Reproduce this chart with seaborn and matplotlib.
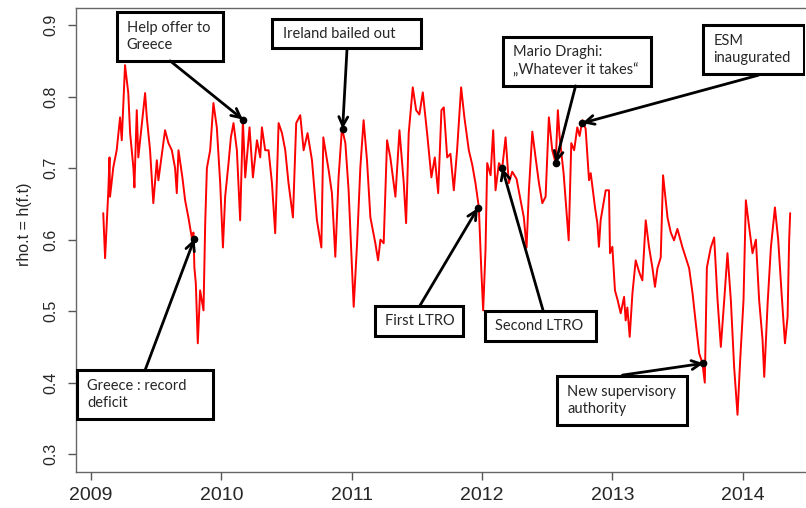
import numpy as np
import pandas as pd
import matplotlib
matplotlib.use("Agg")
import matplotlib.pyplot as plt
import seaborn as sns
from matplotlib.patches import Rectangle

# --- series (decimal year, rho.t) ---
dates = [
    2009.094, 2009.108, 2009.133, 2009.142, 2009.146, 2009.171, 2009.197, 2009.223, 2009.236, 2009.261,
    2009.286, 2009.300, 2009.325, 2009.333, 2009.351, 2009.363, 2009.415, 2009.428, 2009.453, 2009.478,
    2009.505, 2009.517, 2009.568, 2009.594, 2009.620, 2009.645, 2009.658, 2009.671, 2009.701, 2009.722,
    2009.747, 2009.773, 2009.786, 2009.793, 2009.804, 2009.819, 2009.837, 2009.863, 2009.876, 2009.889,
    2009.914, 2009.939, 2009.965, 2009.991, 2010.012, 2010.029, 2010.055, 2010.073, 2010.093, 2010.119,
    2010.144, 2010.165, 2010.183, 2010.216, 2010.242, 2010.273, 2010.298, 2010.311, 2010.336, 2010.362,
    2010.388, 2010.413, 2010.439, 2010.465, 2010.490, 2010.515, 2010.549, 2010.574, 2010.605, 2010.631,
    2010.661, 2010.695, 2010.733, 2010.767, 2010.782, 2010.823, 2010.848, 2010.874, 2010.899, 2010.925,
    2010.951, 2010.976, 2011.015, 2011.041, 2011.066, 2011.091, 2011.117, 2011.143, 2011.181, 2011.202,
    2011.220, 2011.245, 2011.271, 2011.296, 2011.335, 2011.366, 2011.399, 2011.417, 2011.437, 2011.468,
    2011.494, 2011.519, 2011.545, 2011.578, 2011.611, 2011.637, 2011.663, 2011.688, 2011.706, 2011.732,
    2011.757, 2011.783, 2011.808, 2011.839, 2011.864, 2011.898, 2011.924, 2011.949, 2011.975, 2011.993,
    2012.008, 2012.026, 2012.039, 2012.065, 2012.085, 2012.103, 2012.129, 2012.154, 2012.180, 2012.205,
    2012.231, 2012.264, 2012.295, 2012.320, 2012.341, 2012.359, 2012.385, 2012.410, 2012.436, 2012.462,
    2012.487, 2012.512, 2012.538, 2012.564, 2012.581, 2012.594, 2012.625, 2012.664, 2012.684, 2012.706,
    2012.730, 2012.748, 2012.769, 2012.794, 2012.820, 2012.833, 2012.866, 2012.884, 2012.896, 2012.909,
    2012.948, 2012.973, 2012.981, 2012.999, 2013.019, 2013.040, 2013.063, 2013.089, 2013.101, 2013.114,
    2013.132, 2013.153, 2013.178, 2013.204, 2013.229, 2013.255, 2013.280, 2013.306, 2013.326, 2013.345,
    2013.370, 2013.388, 2013.422, 2013.447, 2013.472, 2013.498, 2013.537, 2013.562,
    2013.588, 2013.614, 2013.639, 2013.665, 2013.690, 2013.708, 2013.724, 2013.754, 2013.780, 2013.806,
    2013.831, 2013.857, 2013.882, 2013.908, 2013.933, 2013.959, 2013.979, 2014.005, 2014.023, 2014.048,
    2014.074, 2014.100, 2014.125, 2014.151, 2014.164, 2014.190, 2014.215, 2014.246, 2014.271, 2014.297,
    2014.323, 2014.343, 2014.355, 2014.363,
]
rho = [
    0.637, 0.574, 0.669, 0.715, 0.660, 0.701, 0.725, 0.771, 0.739, 0.844,
    0.805, 0.749, 0.701, 0.673, 0.781, 0.715, 0.805, 0.771, 0.725, 0.651,
    0.711, 0.683, 0.753, 0.735, 0.725, 0.700, 0.665, 0.725, 0.687, 0.655,
    0.631, 0.603, 0.610, 0.561, 0.539, 0.455, 0.529, 0.501, 0.623, 0.700,
    0.725, 0.791, 0.757, 0.679, 0.589, 0.660, 0.707, 0.743, 0.763, 0.725,
    0.627, 0.767, 0.687, 0.757, 0.687, 0.739, 0.715, 0.757, 0.725, 0.725,
    0.679, 0.609, 0.763, 0.749, 0.725, 0.679, 0.631, 0.763, 0.774, 0.725,
    0.749, 0.711, 0.627, 0.589, 0.743, 0.697, 0.665, 0.576, 0.687, 0.756,
    0.735, 0.669, 0.506, 0.595, 0.701, 0.767, 0.711, 0.631, 0.595, 0.571,
    0.600, 0.595, 0.739, 0.715, 0.660, 0.753, 0.679, 0.623, 0.749, 0.813,
    0.781, 0.775, 0.806, 0.749, 0.687, 0.715, 0.665, 0.781, 0.785, 0.715,
    0.720, 0.669, 0.725, 0.813, 0.771, 0.725, 0.705, 0.679, 0.645, 0.561,
    0.501, 0.585, 0.707, 0.690, 0.753, 0.669, 0.707, 0.700, 0.743, 0.679,
    0.695, 0.685, 0.655, 0.631, 0.589, 0.669, 0.751, 0.715, 0.679, 0.651,
    0.660, 0.771, 0.725, 0.707, 0.781, 0.745, 0.693, 0.599, 0.735, 0.725,
    0.757, 0.745, 0.767, 0.755, 0.683, 0.693, 0.645, 0.623, 0.590, 0.627,
    0.669, 0.669, 0.581, 0.590, 0.529, 0.515, 0.497, 0.520, 0.487, 0.505,
    0.464, 0.525, 0.571, 0.555, 0.543, 0.627, 0.590, 0.561, 0.534, 0.560,
    0.575, 0.690, 0.631, 0.610, 0.599, 0.615, 0.589, 0.575,
    0.560, 0.525, 0.483, 0.441, 0.427, 0.400, 0.561, 0.589, 0.603, 0.515,
    0.450, 0.515, 0.581, 0.515, 0.422, 0.355, 0.430, 0.515, 0.655, 0.618,
    0.581, 0.600, 0.515, 0.460, 0.408, 0.511, 0.589, 0.645, 0.600, 0.525,
    0.455, 0.492, 0.599, 0.637,
]

year_ticks = [2009, 2010, 2011, 2012, 2013, 2014]
rho_ticks = [0.3, 0.4, 0.5, 0.6, 0.7, 0.8, 0.9]

# --- events marked on the curve ---
event_labels = [
    "Help offer to\nGreece",
    "Ireland bailed out",
    "Mario Draghi:\n\u201eWhatever it takes\u201c",
    "ESM\ninaugurated",
    "Greece : record\ndeficit",
    "First LTRO",
    "Second LTRO",
    "New supervisory\nauthority",
]
event_dates = [2010.165, 2010.930, 2012.564, 2012.769, 2009.793, 2011.967, 2012.154, 2013.698]
event_values = [0.768, 0.755, 0.707, 0.763, 0.601, 0.644, 0.700, 0.427]

# label boxes (x0, x1, y0, y1) and arrow start points, in data units
boxes = [
    (2009.197, 2010.016, 0.850, 0.9186),
    (2010.392, 2011.532, 0.8674, 0.9084),
    (2012.159, 2013.293, 0.8151, 0.8836),
    (2013.698, 2014.466, 0.8315, 0.9000),
    (2008.895, 2009.935, 0.3490, 0.4175),
    (2011.176, 2011.852, 0.4655, 0.5074),
    (2012.024, 2012.871, 0.4585, 0.5000),
    (2012.577, 2013.568, 0.3406, 0.4090),
]
arrow_from = [
    (2009.607, 0.850), (2010.964, 0.8674), (2012.717, 0.8151), (2014.120, 0.8300),
    (2009.415, 0.4175), (2011.522, 0.5074), (2012.469, 0.5000), (2013.076, 0.4105),
]

df = pd.DataFrame({"year": dates, "rho": rho})

sns.set_style("white")
plt.rcParams["font.family"] = ["Liberation Sans", "DejaVu Sans"]

fig = plt.figure(figsize=(8.06, 5.08), dpi=100)
ax = fig.add_axes([0.0943, 0.0709, 0.9050, 0.9134])

sns.lineplot(data=df, x="year", y="rho", color="#ff0000", linewidth=1.4, ax=ax)

ax.set_xlim(2008.885, 2014.48)
ax.set_ylim(0.275, 0.924)
ax.set_xticks(year_ticks)
ax.set_xticklabels([str(y) for y in year_ticks], fontsize=14)
ax.set_yticks(rho_ticks)
ax.set_yticklabels([f"{v:.1f}" for v in rho_ticks], fontsize=11.5, rotation=90, va="center")
ax.tick_params(axis="both", direction="out", length=5.5, width=1, color="#555555",
               bottom=True, left=True)
ax.tick_params(axis="x", pad=5)
ax.tick_params(axis="y", pad=7)
ax.set_xlabel("")
ax.set_ylabel("rho.t = h(f.t)", fontsize=11.5)
ax.yaxis.set_label_coords(-0.061, 0.534)
for side, spine in ax.spines.items():
    spine.set_color("#666666")
    spine.set_linewidth(1.0)
ax.spines["right"].set_visible(False)

# annotation boxes, arrows and event dots
for label, (x0, x1, y0, y1), (ax0, ay0), ex, ey in zip(
        event_labels, boxes, arrow_from, event_dates, event_values):
    ax.add_patch(Rectangle((x0, y0), x1 - x0, y1 - y0, fill=True, facecolor="white",
                           edgecolor="black", linewidth=2.2, zorder=5))
    ax.text(x0 + 0.077, (y0 + y1) / 2, label, ha="left", va="center",
            fontsize=10.5, family=["Lato", "DejaVu Sans"], linespacing=1.3, zorder=6)
    ax.annotate("", xy=(ex, ey), xytext=(ax0, ay0),
                arrowprops=dict(arrowstyle="->", lw=2, color="black",
                                mutation_scale=16, shrinkA=0, shrinkB=0), zorder=6)
    ax.plot(ex, ey, "o", color="black", markersize=4.5, zorder=7)

fig.savefig("out.png", dpi=100)
